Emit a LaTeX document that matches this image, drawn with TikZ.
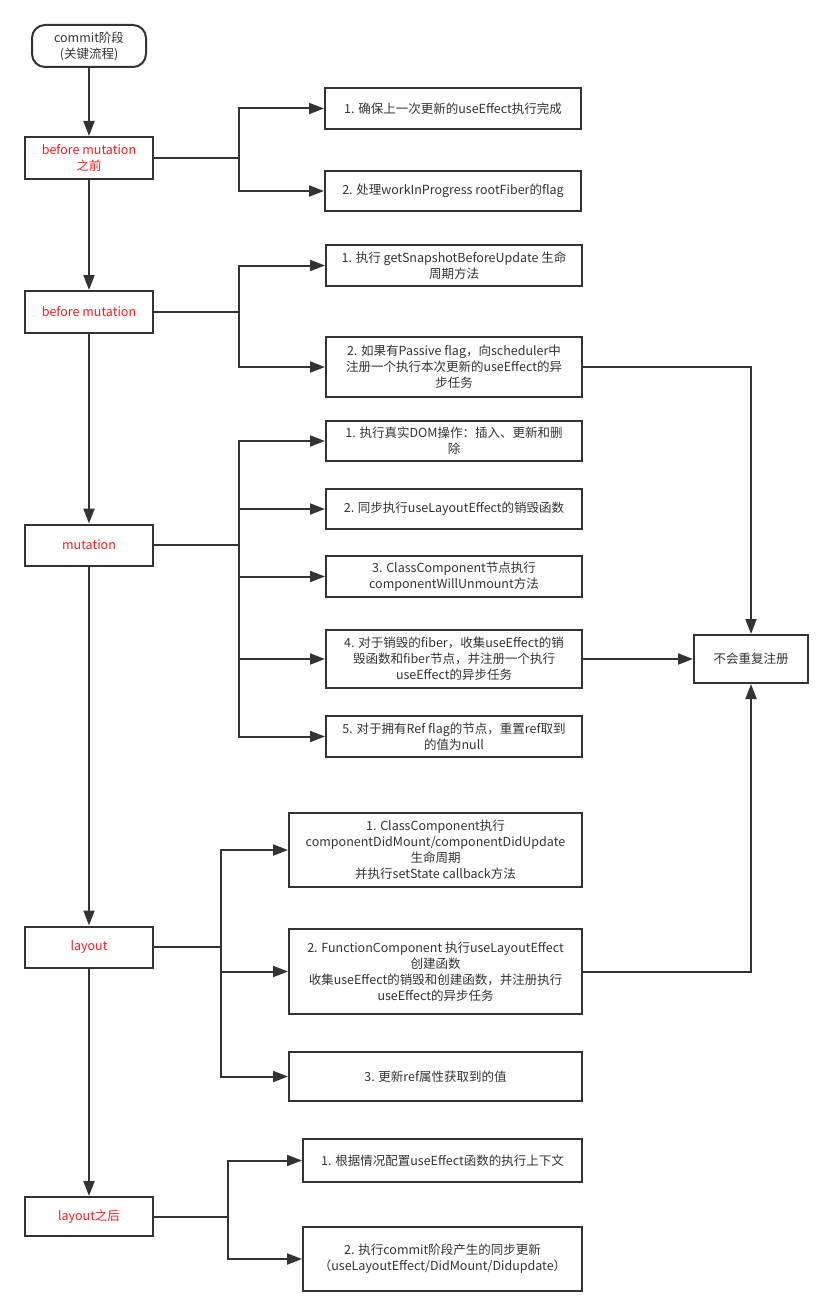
\documentclass[tikz,border=0pt]{standalone}
\usepackage{fontspec}
\setmainfont{Noto Sans CJK SC}
\usetikzlibrary{arrows.meta}
\definecolor{ink}{HTML}{333333}
\definecolor{txt}{HTML}{333333}
\definecolor{hl}{HTML}{FF1A1A}
\begin{document}
\begin{tikzpicture}[x=1pt,y=-1pt,
  font=\fontsize{12.5}{16}\selectfont,
  box/.style={draw=ink, line width=2pt, align=center, text=txt, inner sep=2pt},
  phase/.style={box, text=hl, minimum width=128pt},
  pill/.style={box, rounded corners=13pt},
  link/.style={draw=ink, line width=2pt},
  arr/.style={link, -{Triangle[length=15pt,width=11pt]}}]
\useasboundingbox (0,0) rectangle (833,1316);

% main column
\node[pill, minimum width=114pt, minimum height=42pt] (start) at (89,46) {commit阶段\\(关键流程)};
\node[phase, minimum height=42pt] (bm0) at (89,158) {before mutation\\之前};
\node[phase, minimum height=42pt] (bm) at (89,312) {before mutation};
\node[phase, minimum height=41pt] (mut) at (89,545) {mutation};
\node[phase, minimum height=41pt] (lay) at (89,947) {layout};
\node[phase, minimum height=39pt] (aft) at (89,1216.5) {layout之后};

% before mutation (before)
\node[box, minimum width=256pt, minimum height=41pt] (c01) at (453,108.5) {1. 确保上一次更新的useEffect执行完成};
\node[box, minimum width=256pt, minimum height=40pt] (c02) at (453,191) {2. 处理workInProgress rootFiber的flag};

% before mutation
\node[box, minimum width=256pt, minimum height=41pt] (c11) at (454,265.5) {1. 执行 getSnapshotBeforeUpdate 生命\\周期方法};
\node[box, minimum width=256pt, minimum height=60pt] (c12) at (454,367) {2. 如果有Passive flag，向scheduler中\\注册一个执行本次更新的useEffect的异\\步任务};

% mutation
\node[box, minimum width=256pt, minimum height=40pt] (m1) at (454,441) {1. 执行真实DOM操作：插入、更新和删\\除};
\node[box, minimum width=256pt, minimum height=40pt] (m2) at (454,509) {2. 同步执行useLayoutEffect的销毁函数};
\node[box, minimum width=256pt, minimum height=41pt] (m3) at (454,576.5) {3. ClassComponent节点执行\\componentWillUnmount方法};
\node[box, minimum width=256pt, minimum height=58pt] (m4) at (454,659) {4. 对于销毁的fiber，收集useEffect的销\\毁函数和fiber节点，并注册一个执行\\useEffect的异步任务};
\node[box, minimum width=256pt, minimum height=41pt] (m5) at (454,736.5) {5. 对于拥有Ref flag的节点，重置ref取到\\的值为null};

\node[box, minimum width=114pt, minimum height=48pt] (nr) at (751,659) {不会重复注册};

% layout
\node[box, minimum width=293pt, minimum height=74pt] (l1) at (435.5,850) {1. ClassComponent执行\\componentDidMount/componentDidUpdate\\生命周期\\并执行setState callback方法};
\node[box, minimum width=293pt, minimum height=85pt] (l2) at (435.5,971.5) {2. FunctionComponent 执行useLayoutEffect\\创建函数\\收集useEffect的销毁和创建函数，并注册执行\\useEffect的异步任务};
\node[box, minimum width=293pt, minimum height=49pt] (l3) at (435.5,1076.5) {3. 更新ref属性获取到的值};

% after layout
\node[box, minimum width=279pt, minimum height=43pt] (a1) at (442.5,1160.5) {1. 根据情况配置useEffect函数的执行上下文};
\node[box, minimum width=279pt, minimum height=64pt] (a2) at (442.5,1259) {2. 执行commit阶段产生的同步更新\\（useLayoutEffect/DidMount/Didupdate）};

% main flow
\draw[arr] (start) -- (bm0);
\draw[arr] (bm0) -- (bm);
\draw[arr] (bm) -- (mut);
\draw[arr] (mut) -- (lay);
\draw[arr] (lay) -- (aft);

% junctions
\coordinate (j0) at (239,158);
\coordinate (j1) at (239,312);
\coordinate (j2) at (239,545);
\coordinate (j3) at (220.5,947);
\coordinate (j4) at (228,1216.5);

\draw[link] (bm0.east) -- (j0);
\draw[arr] (j0) |- (c01.west);
\draw[arr] (j0) |- (c02.west);

\draw[link] (bm.east) -- (j1);
\draw[arr] (j1) |- (c11.west);
\draw[arr] (j1) |- (c12.west);

\draw[link] (mut.east) -- (j2);
\foreach \t in {m1,m2,m3,m4,m5} \draw[arr] (j2) |- (\t.west);

\draw[link] (lay.east) -- (j3);
\draw[arr] (j3) |- (l1.west);
\draw[arr] (j3) |- (l2.west);
\draw[arr] (j3) |- (l3.west);

\draw[link] (aft.east) -- (j4);
\draw[arr] (j4) |- (a1.west);
\draw[arr] (j4) |- (a2.west);

% no duplicate registration
\draw[arr] (c12.east) -| (nr.north);
\draw[arr] (m4.east) -- (nr.west);
\draw[arr] (l2.east) -| (nr.south);
\end{tikzpicture}
\end{document}
